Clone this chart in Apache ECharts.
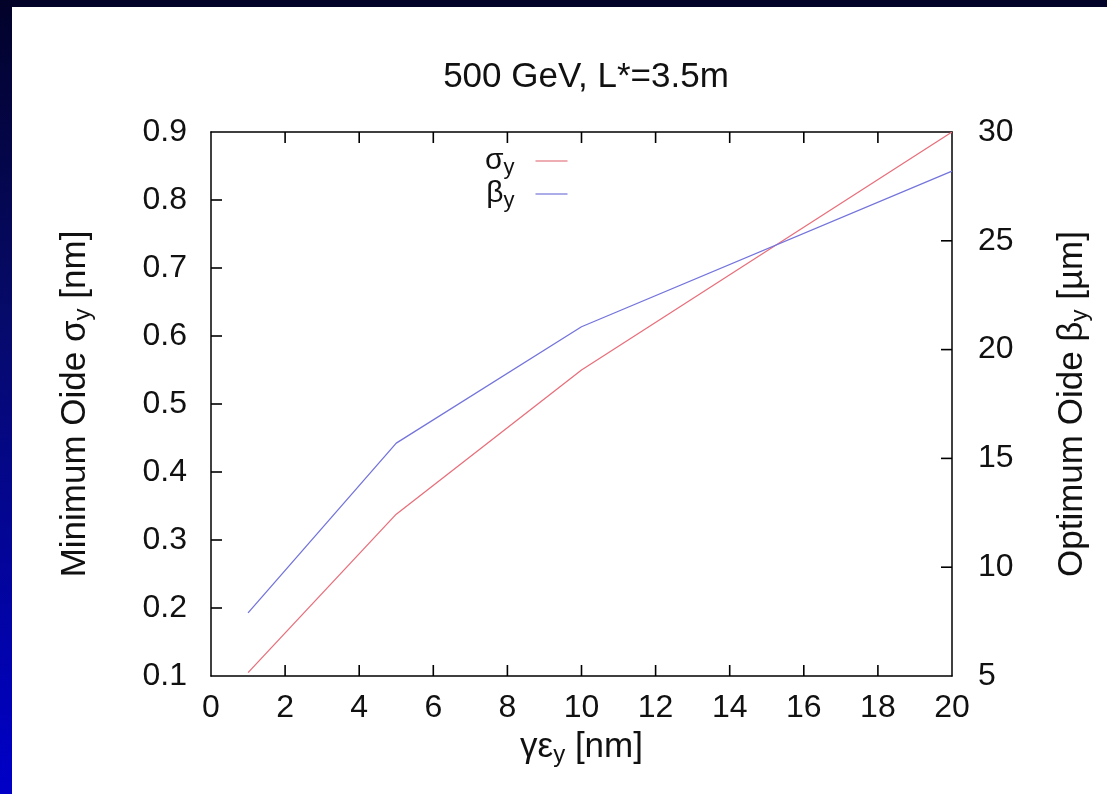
<!DOCTYPE html>
<html>
<head>
<meta charset="utf-8">
<script src="https://cdn.jsdelivr.net/npm/echarts@6/dist/echarts.min.js"></script>
<style>
  html, body { margin: 0; padding: 0; }
  body { width: 1107px; height: 794px; position: relative; overflow: hidden;
         background: linear-gradient(to bottom, #02022a 0%, #060a6a 40%, #0000c8 100%); }
  #topbar { position: absolute; left: 0; top: 0; width: 1107px; height: 7px; background: #03032a; }
  #panel { position: absolute; left: 12px; top: 7px; width: 1095px; height: 787px; background: #ffffff; }
  #chart { position: absolute; left: 0; top: 0; width: 1107px; height: 794px; }
</style>
</head>
<body>
<div id="topbar"></div>
<div id="panel"></div>
<div id="chart"></div>
<script>
// ---- data ----
const emittance = [1, 5, 10, 20];              // γε_y [nm]
const sigmaY    = [0.105, 0.338, 0.55, 0.90];  // Minimum Oide σ_y [nm]
const betaY     = [7.9, 15.7, 21.05, 28.2];    // Optimum Oide β_y [µm]
const titleText = '500 GeV, L*=3.5m';
const seriesNames = ['sigma', 'beta'];

// ---- axis ranges and tick values ----
const xRange     = [0, 20];
const leftRange  = [0.1, 0.9];
const rightRange = [5, 30];
const xTicks     = [2, 4, 6, 8, 10, 12, 14, 16, 18];
const leftTicks  = [0.2, 0.3, 0.4, 0.5, 0.6, 0.7, 0.8];
const rightTicks = [10, 15, 20, 25];

const FONT = 'Liberation Sans, Arial, sans-serif';
const FS = 32;
const NFS = 35;
const TICK_LEN = 11;
function sub() { return { fontFamily: FONT, fontSize: 24, color: '#111', padding: [15, 0, 0, 0] }; }
function main() { return { fontFamily: FONT, fontSize: NFS, color: '#111' }; }
function axisLineStyle() { return { show: true, onZero: false, lineStyle: { color: '#000', width: 1.5 } }; }
function tickLine(x1, y1, x2, y2) {
  return { type: 'line', shape: { x1: x1, y1: y1, x2: x2, y2: y2 },
           style: { stroke: '#000', lineWidth: 1.6 } };
}

const chart = echarts.init(document.getElementById('chart'));

const sigmaData = emittance.map((x, i) => [x, sigmaY[i]]);
const betaData  = emittance.map((x, i) => [x, betaY[i]]);

const option = {
  animation: false,
  title: {
    text: titleText,
    left: 581, top: 55, textAlign: 'center',
    textStyle: { fontFamily: FONT, fontSize: 35, fontWeight: 'normal', color: '#111' }
  },
  legend: {
    orient: 'vertical',
    left: 480, top: 141,
    align: 'right',
    icon: 'rect',
    itemWidth: 32, itemHeight: 1.5,
    itemGap: 0,
    data: seriesNames,
    formatter: function (n) { return (n === 'sigma' ? '{m|σ}{s|y}' : '{m|β}{s|y}') + '{g|}'; },
    textStyle: { fontFamily: FONT, fontSize: 30, color: '#111',
      rich: { m: { fontFamily: FONT, fontSize: 30, color: '#111' },
              s: { fontFamily: FONT, fontSize: 22, color: '#111', padding: [14, 0, 0, 0] },
              g: { width: 16 } } }
  },
  grid: { left: 211, right: 155, top: 132, bottom: 118 },
  xAxis: [
    {
      type: 'value', min: xRange[0], max: xRange[1], interval: 2, position: 'bottom',
      axisLine: axisLineStyle(), axisTick: { show: false }, splitLine: { show: false },
      axisLabel: { fontFamily: FONT, fontSize: FS, color: '#111', margin: 16 },
      name: '{m|γε}{s|y}{m| [nm]}', nameLocation: 'middle', nameGap: 52,
      nameTextStyle: { rich: { m: main(), s: sub() } }
    },
    {
      type: 'value', min: xRange[0], max: xRange[1], interval: 2, position: 'top',
      axisLine: axisLineStyle(), axisTick: { show: false }, splitLine: { show: false },
      axisLabel: { show: false }
    }
  ],
  yAxis: [
    {
      type: 'value', min: leftRange[0], max: leftRange[1], interval: 0.1, position: 'left',
      axisLine: axisLineStyle(), axisTick: { show: false }, splitLine: { show: false },
      axisLabel: { fontFamily: FONT, fontSize: FS, color: '#111', margin: 24,
                   formatter: v => v.toFixed(1) },
      name: '{m|Minimum Oide σ}{s|y}{m| [nm]}', nameLocation: 'middle', nameGap: 116, nameRotate: 90,
      nameTextStyle: { rich: { m: main(), s: sub() } }
    },
    {
      type: 'value', min: rightRange[0], max: rightRange[1], interval: 5, position: 'right',
      axisLine: axisLineStyle(), axisTick: { show: false }, splitLine: { show: false },
      axisLabel: { fontFamily: FONT, fontSize: FS, color: '#111', margin: 26 },
      name: '{m|Optimum Oide β}{s|y}{m| [µm]}', nameLocation: 'middle', nameGap: 101, nameRotate: 90,
      nameTextStyle: { rich: { m: main(), s: sub() } }
    }
  ],
  series: [
    {
      name: 'sigma', type: 'line', xAxisIndex: 0, yAxisIndex: 0,
      data: sigmaData, symbol: 'none', smooth: false,
      lineStyle: { color: '#e8707c', width: 1.3 }, itemStyle: { color: '#e8909a' }
    },
    {
      name: 'beta', type: 'line', xAxisIndex: 0, yAxisIndex: 1,
      data: betaData, symbol: 'none', smooth: false,
      lineStyle: { color: '#7474dc', width: 1.3 }, itemStyle: { color: '#9090e0' }
    },
    // inward tick marks on bottom and top frame (positions from the x scale)
    {
      name: 'xticks', type: 'custom', xAxisIndex: 0, yAxisIndex: 0, silent: true, clip: false,
      data: xTicks.map(v => [v, leftRange[0], leftRange[1]]),
      encode: { x: 0, y: [1, 2] },
      renderItem: function (params, api) {
        const b = api.coord([api.value(0), api.value(1)]);
        const t = api.coord([api.value(0), api.value(2)]);
        return { type: 'group', children: [
          tickLine(b[0], b[1], b[0], b[1] - TICK_LEN),
          tickLine(t[0], t[1], t[0], t[1] + TICK_LEN)
        ] };
      }
    },
    // inward tick marks on the left axis
    {
      name: 'lticks', type: 'custom', xAxisIndex: 0, yAxisIndex: 0, silent: true, clip: false,
      data: leftTicks.map(v => [xRange[0], v]),
      encode: { x: 0, y: 1 },
      renderItem: function (params, api) {
        const p = api.coord([api.value(0), api.value(1)]);
        return tickLine(p[0], p[1], p[0] + TICK_LEN, p[1]);
      }
    },
    // inward tick marks on the right axis
    {
      name: 'rticks', type: 'custom', xAxisIndex: 0, yAxisIndex: 1, silent: true, clip: false,
      data: rightTicks.map(v => [xRange[1], v]),
      encode: { x: 0, y: 1 },
      renderItem: function (params, api) {
        const p = api.coord([api.value(0), api.value(1)]);
        return tickLine(p[0], p[1], p[0] - TICK_LEN, p[1]);
      }
    }
  ]
};
chart.setOption(option);
</script>
</body>
</html>
